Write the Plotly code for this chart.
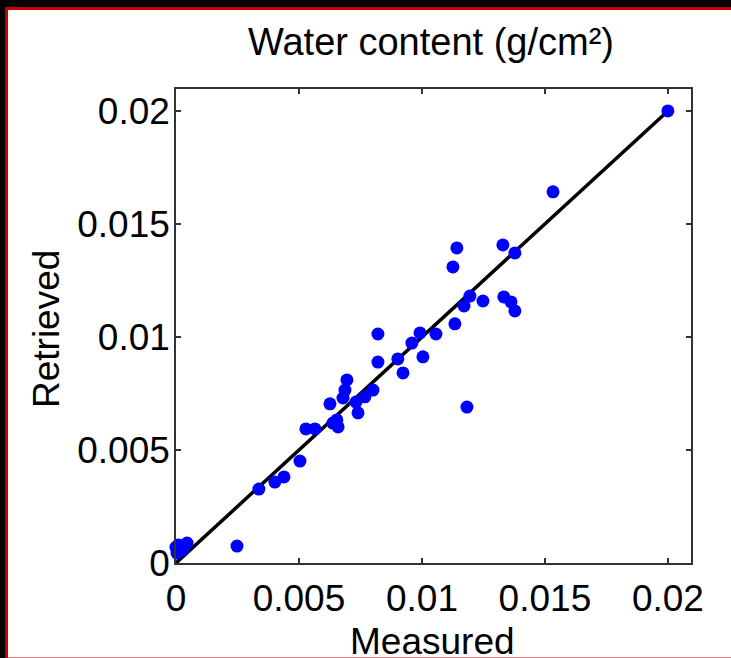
import plotly.graph_objects as go

# Data
measured = [0.0200, 0.01533, 0.01142, 0.01126, 0.01329, 0.01378, 0.01195, 0.01171, 0.01248,
            0.01333, 0.01362, 0.01378, 0.01134, 0.01057, 0.00992, 0.00959, 0.01004, 0.00923,
            0.00902, 0.00821, 0.00821, 0.01183, 0.00801, 0.00768, 0.00732, 0.00740, 0.00695,
            0.00687, 0.00679, 0.00626, 0.00654, 0.00638, 0.00659, 0.00528, 0.00565, 0.00504,
            0.00439, 0.00402, 0.00337, 0.00248, 0.0, 0.00004, 0.00045, 0.00028, 0.0001]
retrieved = [0.0200, 0.01642, 0.01394, 0.01310, 0.01407, 0.01372, 0.01181, 0.01137, 0.01159,
             0.01177, 0.01155, 0.01115, 0.01058, 0.01013, 0.01018, 0.00973, 0.00912, 0.00841,
             0.00903, 0.01013, 0.00889, 0.00690, 0.00765, 0.00735, 0.00712, 0.00664, 0.00810,
             0.00765, 0.00730, 0.00704, 0.00633, 0.00619, 0.00602, 0.00593, 0.00593, 0.00451,
             0.00381, 0.00358, 0.00327, 0.00075, 0.00070, 0.00044, 0.00088, 0.00058, 0.00080]
fit_x = [0.0, 0.02]
fit_y = [0.0, 0.02]
tick_vals = [0, 0.005, 0.01, 0.015, 0.02]
tick_text = ["0", "0.005", "0.01", "0.015", "0.02"]

FONT = "Liberation Sans, Arial, sans-serif"
AXC = "#333333"

fig = go.Figure()
fig.add_trace(go.Scatter(x=fit_x, y=fit_y, mode="lines",
                         line=dict(color="black", width=3.5), showlegend=False,
                         cliponaxis=False))
fig.add_trace(go.Scatter(x=measured, y=retrieved, mode="markers",
                         marker=dict(color="#0000ff", size=13, line=dict(width=0)),
                         showlegend=False, cliponaxis=False))

axis_common = dict(showgrid=False, zeroline=False, showline=True, linecolor=AXC, linewidth=1.5,
                   mirror="ticks", ticks="inside", ticklen=5, tickcolor=AXC, tickwidth=1.5,
                   tickvals=tick_vals, ticktext=tick_text,
                   tickfont=dict(family=FONT, size=37, color="black"))

fig.update_layout(
    width=731, height=658,
    margin=dict(l=176, r=40, t=89, b=95, pad=0),
    paper_bgcolor="black", plot_bgcolor="white",
    xaxis=dict(range=[0, 0.02094], ticklabelstandoff=2, **axis_common),
    yaxis=dict(range=[0, 0.02097], ticklabelstandoff=-3, **axis_common),
    title=dict(text="Water content (g/cm²)", x=(431 / 731), xanchor="center",
               y=1 - 41.5 / 658, yanchor="middle",
               font=dict(family=FONT, size=38, color="black")),
    shapes=[dict(type="rect", xref="paper", yref="paper", layer="below",
                 x0=(6.5 - 176) / 515, x1=(740 - 176) / 515,
                 y0=(563 - 659) / 474, y1=(563 - 8.5) / 474,
                 fillcolor="white", line=dict(color="#c80000", width=3))],
    annotations=[
        dict(text="Measured", xref="paper", yref="paper", x=(432 - 176) / 515,
             y=(563 - 641.5) / 474, xanchor="center", yanchor="middle", showarrow=False,
             font=dict(family=FONT, size=37, color="black")),
        dict(text="Retrieved", xref="paper", yref="paper", x=(46 - 176) / 515,
             y=(563 - 329) / 474, xanchor="center", yanchor="middle", showarrow=False,
             textangle=-90, font=dict(family=FONT, size=37, color="black")),
    ],
)

fig.write_html("out.html")
